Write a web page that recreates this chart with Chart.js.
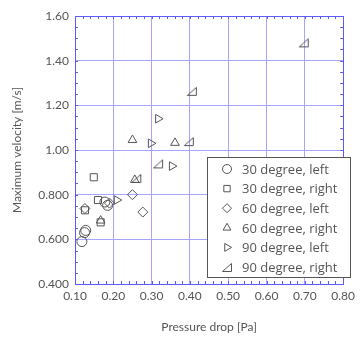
<!DOCTYPE html>
<html>
<head>
<meta charset="utf-8">
<script src="https://cdn.jsdelivr.net/npm/chart.js@4.4.1/dist/chart.umd.min.js"></script>
<style>
  html, body { margin: 0; padding: 0; background: #fff; }
  #wrap { width: 360px; height: 338px; position: relative; }
</style>
</head>
<body>
<div id="wrap"><canvas id="velChart"></canvas></div>
<script>
// series: [pressure drop, max velocity]
const seriesNames = ['30 degree, left', '30 degree, right', '60 degree, left',
                     '60 degree, right', '90 degree, left', '90 degree, right'];
const deg30Left  = [[0.118, 0.590], [0.128, 0.640], [0.125, 0.630], [0.178, 0.767], [0.185, 0.752]];
const deg30Right = [[0.149, 0.878], [0.160, 0.776], [0.126, 0.730], [0.167, 0.676]];
const deg60Left  = [[0.250, 0.800], [0.277, 0.722], [0.126, 0.738], [0.190, 0.762]];
const deg60Right = [[0.250, 1.045], [0.361, 1.032], [0.256, 0.866], [0.167, 0.684]];
const deg90Left  = [[0.317, 1.140], [0.298, 1.030], [0.353, 0.928], [0.209, 0.776]];
const deg90Right = [[0.697, 1.482], [0.405, 1.265], [0.397, 1.040], [0.317, 0.940], [0.260, 0.875]];
const xTicks = [0.1, 0.2, 0.3, 0.4, 0.5, 0.6, 0.7, 0.8];
const yTickLabels = { '0.4': '0.400', '0.6': '0.600', '0.8': '0.800', '1': '1.00', '1.2': '1.20', '1.4': '1.40', '1.6': '1.60' };

const markColor = '#555555';
const gridColor = '#a6a6ff';
const axisColor = '#5a5aff';
const textColor = '#555555';
const fontFamily = "'Lato', 'Open Sans', sans-serif";

// right-angle triangle marker (90 degree, right)
function makeCornerTriangle() {
    const c = document.createElement('canvas');
    c.width = 12; c.height = 12;
    const g = c.getContext('2d');
    g.strokeStyle = markColor;
    g.lineWidth = 1;
    g.beginPath();
    g.moveTo(1.5, 10.5);
    g.lineTo(10.5, 10.5);
    g.lineTo(10.5, 2.5);
    g.closePath();
    g.stroke();
    return c;
}
const cornerTri = makeCornerTriangle();

function toPoints(arr) {
    return arr.map(p => ({ x: p[0], y: p[1] }));
}

const styles = [
    { pointStyle: 'circle', radius: 5, rotation: 0 },
    { pointStyle: 'rect', radius: 5, rotation: 0 },
    { pointStyle: 'rectRot', radius: 5, rotation: 0 },
    { pointStyle: 'triangle', radius: 5, rotation: 0 },
    { pointStyle: 'triangle', radius: 5, rotation: 90 },
    { pointStyle: cornerTri, radius: 5, rotation: 0 }
];
const allData = [deg30Left, deg30Right, deg60Left, deg60Right, deg90Left, deg90Right];

const datasets = allData.map((d, i) => ({
    label: seriesNames[i],
    data: toPoints(d),
    pointStyle: styles[i].pointStyle,
    pointRadius: styles[i].radius,
    pointRotation: styles[i].rotation,
    pointBorderColor: markColor,
    pointBackgroundColor: 'rgba(0,0,0,0)',
    pointBorderWidth: 1,
    showLine: false
}));

// box, minor ticks and the legend inside the plot
const framePlugin = {
    id: 'frame',
    afterDatasetsDraw(chart) {
        const ctx = chart.ctx;
        const a = chart.chartArea;
        const xs = chart.scales.x, ys = chart.scales.y;
        ctx.save();
        ctx.strokeStyle = axisColor;
        ctx.lineWidth = 1;
        ctx.strokeRect(Math.round(a.left) + 0.5, Math.round(a.top) + 0.5,
                       Math.round(a.right - a.left), Math.round(a.bottom - a.top));
        ctx.beginPath();
        for (let v = 0.1; v <= 0.8001; v += 0.02) {
            const px = Math.round(xs.getPixelForValue(v)) + 0.5;
            ctx.moveTo(px, a.bottom); ctx.lineTo(px, a.bottom - 3);
            ctx.moveTo(px, a.top); ctx.lineTo(px, a.top + 3);
        }
        for (let v = 0.4; v <= 1.6001; v += 0.05) {
            const py = Math.round(ys.getPixelForValue(v)) + 0.5;
            ctx.moveTo(a.left, py); ctx.lineTo(a.left + 3, py);
            ctx.moveTo(a.right, py); ctx.lineTo(a.right - 3, py);
        }
        ctx.stroke();

        // legend
        const bx = 207.5, by = 157.5, bw = 143, bh = 120;
        ctx.fillStyle = '#ffffff';
        ctx.fillRect(bx, by, bw, bh);
        ctx.strokeStyle = '#555555';
        ctx.strokeRect(bx, by, bw, bh);
        ctx.font = "13px 'Open Sans', sans-serif";
        ctx.textBaseline = 'middle';
        seriesNames.forEach((name, i) => {
            const y = 169 + i * 19.6;
            ctx.strokeStyle = markColor;
            ctx.fillStyle = 'rgba(0,0,0,0)';
            ctx.lineWidth = 1;
            Chart.helpers.drawPoint(ctx, {
                pointStyle: styles[i].pointStyle,
                radius: 4.5,
                rotation: styles[i].rotation,
                borderWidth: 1
            }, 227, y);
            ctx.fillStyle = textColor;
            ctx.fillText(name, 242, y + 1);
        });
        ctx.restore();
    }
};

const ctx = document.getElementById('velChart').getContext('2d');
let chart = new Chart(ctx, {
    type: 'scatter',
    data: { datasets: datasets },
    options: {
        responsive: true,
        maintainAspectRatio: false,
        animation: false,
        layout: { padding: { top: 16, right: 14, left: 0, bottom: 0 } },
        plugins: { legend: { display: false }, tooltip: { enabled: false } },
        scales: {
            x: {
                type: 'linear',
                min: 0.1, max: 0.8,
                afterBuildTicks: s => { s.ticks = xTicks.map(v => ({ value: v })); },
                afterFit: s => { s.height = 54; },
                grid: { color: gridColor, drawTicks: false, lineWidth: 1 },
                border: { display: false },
                ticks: {
                    color: textColor, padding: 5,
                    font: { family: fontFamily, size: 12 },
                    callback: v => v.toFixed(2)
                },
                title: {
                    display: true, text: 'Pressure drop [Pa]', color: textColor,
                    font: { family: fontFamily, size: 12 }, padding: { top: 10 }
                }
            },
            y: {
                type: 'linear',
                min: 0.4, max: 1.6,
                ticks: {
                    stepSize: 0.2, color: textColor, padding: 6,
                    font: { family: fontFamily, size: 12 },
                    callback: v => yTickLabels[String(Math.round(v * 10) / 10)]
                },
                afterFit: s => { s.width = 75; },
                grid: { color: gridColor, drawTicks: false, lineWidth: 1 },
                border: { display: false },
                title: {
                    display: true, text: 'Maximum velocity [m/s]', color: textColor,
                    font: { family: fontFamily, size: 12 }, padding: { top: 10, bottom: 2 }
                }
            }
        }
    },
    plugins: [framePlugin]
});
</script>
</body>
</html>
